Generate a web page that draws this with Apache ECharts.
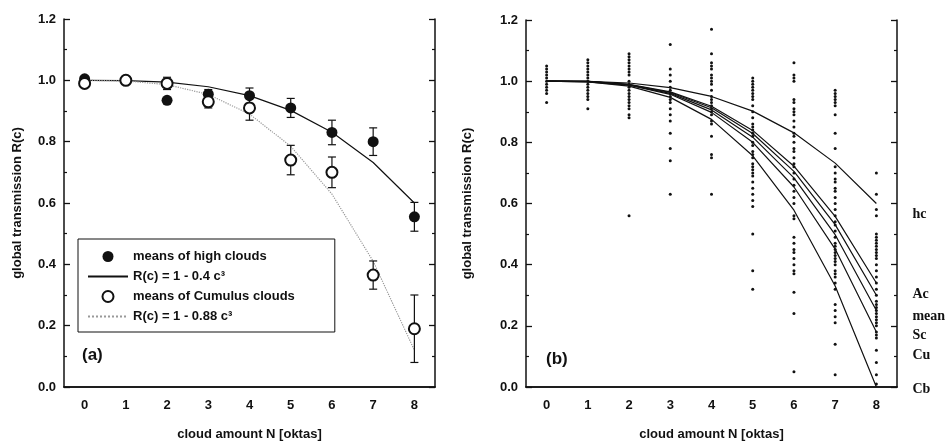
<!DOCTYPE html>
<html>
<head>
<meta charset="utf-8">
<script src="https://cdn.jsdelivr.net/npm/echarts@6/dist/echarts.min.js"></script>
<style>html,body{margin:0;padding:0;background:#fff}#c{width:951px;height:446px}</style>
</head>
<body>
<div id="c"></div>
<script>
// ---- data ----
const oktas = ['0','1','2','3','4','5','6','7','8'];
const yTicks = [0, 0.2, 0.4, 0.6, 0.8, 1.0, 1.2];

// panel (a)
const highMean = [1.005, 1.0, 0.935, 0.955, 0.95, 0.91, 0.83, 0.80, 0.555];
const highErr  = [0, 0, 0, 0.015, 0.025, 0.031, 0.04, 0.045, 0.047];
const cuMean   = [0.99, 1.0, 0.99, 0.93, 0.91, 0.74, 0.70, 0.365, 0.19];
const cuErr    = [0, 0, 0.02, 0.02, 0.04, 0.048, 0.05, 0.046, 0.11];
const fitHigh  = [1.0, 0.999, 0.994, 0.979, 0.95, 0.902, 0.831, 0.732, 0.60];
const fitCu    = [1.0, 0.998, 0.986, 0.954, 0.89, 0.785, 0.629, 0.41, 0.12];

// panel (b) curves
const curveHc   = [1.0, 0.999, 0.994, 0.979, 0.95, 0.902, 0.831, 0.732, 0.60];
const curveAc   = [1.0, 0.999, 0.990, 0.965, 0.918, 0.839, 0.722, 0.558, 0.34];
const curveMean = [1.0, 0.999, 0.989, 0.963, 0.913, 0.829, 0.705, 0.531, 0.30];
const curveSc   = [1.0, 0.999, 0.988, 0.960, 0.906, 0.817, 0.684, 0.498, 0.25];
const curveCu   = [1.0, 0.998, 0.987, 0.957, 0.898, 0.800, 0.654, 0.451, 0.18];
const curveCb   = [1.0, 0.998, 0.984, 0.947, 0.875, 0.756, 0.578, 0.330, 0.0];

// panel (b) individual observations per cloud amount
const obs0 = [1.05,1.04,1.03,1.02,1.01,1.0,0.99,0.98,0.97,0.96,0.93];
const obs1 = [1.07,1.06,1.05,1.04,1.03,1.02,1.01,1.0,0.99,0.98,0.97,0.96,0.95,0.94,0.91];
const obs2 = [1.09,1.08,1.07,1.06,1.05,1.04,1.03,1.02,1.0,0.99,0.98,0.97,0.96,0.95,0.94,0.93,0.92,0.91,0.89,0.88,0.56];
const obs3 = [1.12,1.04,1.02,1.0,0.98,0.97,0.96,0.95,0.94,0.93,0.91,0.89,0.87,0.83,0.78,0.74,0.63];
const obs4 = [1.17,1.09,1.06,1.05,1.04,1.02,1.01,1.0,0.99,0.97,0.95,0.94,0.93,0.92,0.91,0.90,0.89,0.87,0.86,0.82,0.76,0.75,0.63];
const obs5 = [1.01,1.0,0.99,0.98,0.97,0.96,0.95,0.94,0.92,0.90,0.88,0.86,0.85,0.84,0.83,0.82,0.80,0.79,0.77,0.76,0.75,0.73,0.72,0.71,0.70,0.69,0.67,0.65,0.63,0.61,0.59,0.50,0.38,0.32];
const obs6 = [1.06,1.02,1.01,1.0,0.94,0.93,0.91,0.90,0.89,0.87,0.85,0.83,0.82,0.80,0.78,0.77,0.75,0.73,0.72,0.70,0.68,0.66,0.64,0.62,0.60,0.56,0.55,0.49,0.47,0.45,0.44,0.42,0.40,0.38,0.37,0.31,0.24,0.05];
const obs7 = [0.97,0.96,0.95,0.94,0.93,0.92,0.89,0.83,0.78,0.72,0.70,0.68,0.67,0.65,0.64,0.62,0.60,0.58,0.56,0.54,0.53,0.51,0.49,0.47,0.46,0.45,0.44,0.43,0.42,0.41,0.40,0.38,0.37,0.36,0.34,0.32,0.27,0.25,0.23,0.21,0.14,0.04];
const obs8 = [0.70,0.63,0.58,0.56,0.50,0.49,0.48,0.47,0.46,0.45,0.44,0.43,0.42,0.40,0.38,0.36,0.34,0.32,0.30,0.28,0.27,0.26,0.25,0.24,0.23,0.22,0.21,0.20,0.18,0.17,0.16,0.12,0.08,0.04,0.01];

// ---- build ----
const INK = '#111';
const sans = 'Liberation Sans, Arial, sans-serif';
const serif = 'Liberation Serif, Times New Roman, serif';
const obsCols = [obs0,obs1,obs2,obs3,obs4,obs5,obs6,obs7,obs8];
const obsData = [];
obsCols.forEach((col, i) => col.forEach(v => obsData.push([i, v])));

function xAxes(gridIndex, name) {
  return [{
    type: 'category', gridIndex, data: oktas, position: 'bottom', boundaryGap: true,
    name, nameLocation: 'middle', nameGap: 41,
    nameTextStyle: {fontFamily: sans, fontWeight: 'bold', fontSize: 13, color: INK},
    axisLine: {lineStyle: {color: INK, width: 1.5}},
    axisTick: {inside: true, alignWithLabel: true, length: 6, lineStyle: {color: INK, width: 1.3}},
    axisLabel: {fontFamily: sans, fontWeight: 'bold', fontSize: 13, color: INK, margin: 12},
    splitLine: {show: false}
  }, {
    type: 'category', gridIndex, data: oktas, position: 'top', boundaryGap: true,
    axisLine: {lineStyle: {color: INK, width: 1.5}},
    axisTick: {inside: true, alignWithLabel: true, length: 6, lineStyle: {color: INK, width: 1.3}},
    axisLabel: {show: false}, splitLine: {show: false}
  }];
}
function yAxes(gridIndex, nameGap) {
  const common = {
    type: 'value', gridIndex, min: yTicks[0], max: yTicks[yTicks.length-1], interval: 0.2,
    axisLine: {show: true, lineStyle: {color: INK, width: 1.5}},
    axisTick: {show: true, inside: true, length: 6, lineStyle: {color: INK, width: 1.3}},
    minorTick: {show: true, splitNumber: 2, length: 3, lineStyle: {color: INK, width: 1.2}},
    splitLine: {show: false}
  };
  return [Object.assign({}, common, {
    position: 'left',
    name: 'global transmission R(c)', nameLocation: 'middle', nameRotate: 90, nameGap,
    nameTextStyle: {fontFamily: sans, fontWeight: 'bold', fontSize: 13, color: INK},
    axisLabel: {fontFamily: sans, fontWeight: 'bold', fontSize: 13, color: INK, margin: 8,
      formatter: v => v.toFixed(1)}
  }), Object.assign({}, common, {position: 'right', axisLabel: {show: false}})];
}

function errRender(params, api) {
  const x = api.value(0), y = api.value(1), e = api.value(2);
  if (!e) return null;
  const top = api.coord([x, y + e]);
  const bot = api.coord([x, y - e]);
  const w = 4;
  const st = {stroke: INK, lineWidth: 1.2};
  return {type: 'group', children: [
    {type: 'line', shape: {x1: top[0], y1: top[1], x2: bot[0], y2: bot[1]}, style: st},
    {type: 'line', shape: {x1: top[0]-w, y1: top[1], x2: top[0]+w, y2: top[1]}, style: st},
    {type: 'line', shape: {x1: bot[0]-w, y1: bot[1], x2: bot[0]+w, y2: bot[1]}, style: st}
  ]};
}

function curve(name, data, offset) {
  return {
    name, type: 'line', xAxisIndex: 2, yAxisIndex: 2, data, symbol: 'none', silent: true,
    lineStyle: {color: INK, width: 1.2}, z: 3,
    endLabel: {show: true, formatter: name, offset, color: INK,
      fontFamily: serif, fontWeight: 'bold', fontSize: 14}
  };
}

const option = {
  backgroundColor: '#fff',
  animation: false,
  grid: [
    {left: 64, top: 19, width: 371, height: 373},
    {left: 526, top: 20, width: 371, height: 374}
  ],
  xAxis: [...xAxes(0, 'cloud amount N [oktas]'), ...xAxes(1, 'cloud amount N [oktas]')],
  yAxis: [...yAxes(0, 40), ...yAxes(1, 52)],
  title: [
    {text: '(a)', left: 82, top: 347, textStyle: {fontFamily: sans, fontWeight: 'bold', fontSize: 17, color: INK}, padding: 0},
    {text: '(b)', left: 546, top: 351, textStyle: {fontFamily: sans, fontWeight: 'bold', fontSize: 17, color: INK}, padding: 0}
  ],
  legend: {
    left: 78, top: 239, orient: 'vertical',
    padding: [11, 40, 9, 9], itemGap: 7, itemWidth: 40, itemHeight: 11,
    borderColor: INK, borderWidth: 1, backgroundColor: '#fff',
    textStyle: {fontFamily: sans, fontWeight: 'bold', fontSize: 13, color: INK},
    selectedMode: false,
    data: [
      {name: 'means of high clouds', icon: 'circle'},
      {name: 'R(c) = 1 - 0.4 c³', itemStyle: {color: 'rgba(0,0,0,0)', borderWidth: 0, opacity: 0}},
      {name: 'means of Cumulus clouds', icon: 'emptyCircle'},
      {name: 'R(c) = 1 - 0.88 c³', itemStyle: {color: 'rgba(0,0,0,0)', borderWidth: 0, opacity: 0}}
    ]
  },
  series: [
    {name: 'R(c) = 1 - 0.4 c³', type: 'line', xAxisIndex: 0, yAxisIndex: 0, data: fitHigh,
      symbol: 'none', lineStyle: {color: INK, width: 1.2}, itemStyle: {color: 'rgba(0,0,0,0)'}, z: 2},
    {name: 'R(c) = 1 - 0.88 c³', type: 'line', xAxisIndex: 0, yAxisIndex: 0, data: fitCu,
      symbol: 'none', lineStyle: {color: '#999', width: 1.2, type: 'dotted'}, itemStyle: {color: 'rgba(0,0,0,0)'}, z: 2},
    {name: 'errHigh', type: 'custom', xAxisIndex: 0, yAxisIndex: 0, renderItem: errRender,
      data: highMean.map((v, i) => [i, v, highErr[i]]), encode: {x: 0, y: 1}, z: 3},
    {name: 'errCu', type: 'custom', xAxisIndex: 0, yAxisIndex: 0, renderItem: errRender,
      data: cuMean.map((v, i) => [i, v, cuErr[i]]), encode: {x: 0, y: 1}, z: 3},
    {name: 'means of high clouds', type: 'scatter', xAxisIndex: 0, yAxisIndex: 0,
      data: highMean.map((v, i) => [i, v]), symbol: 'circle', symbolSize: 11,
      itemStyle: {color: INK, opacity: 1}, z: 4},
    {name: 'means of Cumulus clouds', type: 'scatter', xAxisIndex: 0, yAxisIndex: 0,
      data: cuMean.map((v, i) => [i, v]), symbol: 'emptyCircle', symbolSize: 11,
      itemStyle: {color: INK, borderColor: INK, borderWidth: 1, opacity: 1}, z: 5},

    {name: 'obs', type: 'scatter', xAxisIndex: 2, yAxisIndex: 2, data: obsData,
      symbol: 'circle', symbolSize: 3, itemStyle: {color: INK, opacity: 1}, z: 2, silent: true},
    curve('hc', curveHc, [28, 11]),
    curve('Ac', curveAc, [28, 11]),
    curve('mean', curveMean, [28, 21]),
    curve('Sc', curveSc, [28, 25]),
    curve('Cu', curveCu, [28, 23]),
    curve('Cb', curveCb, [28, 2])
  ]
};

const chart = echarts.init(document.getElementById('c'), null, {renderer: 'canvas'});
chart.setOption(option);
</script>
</body>
</html>
